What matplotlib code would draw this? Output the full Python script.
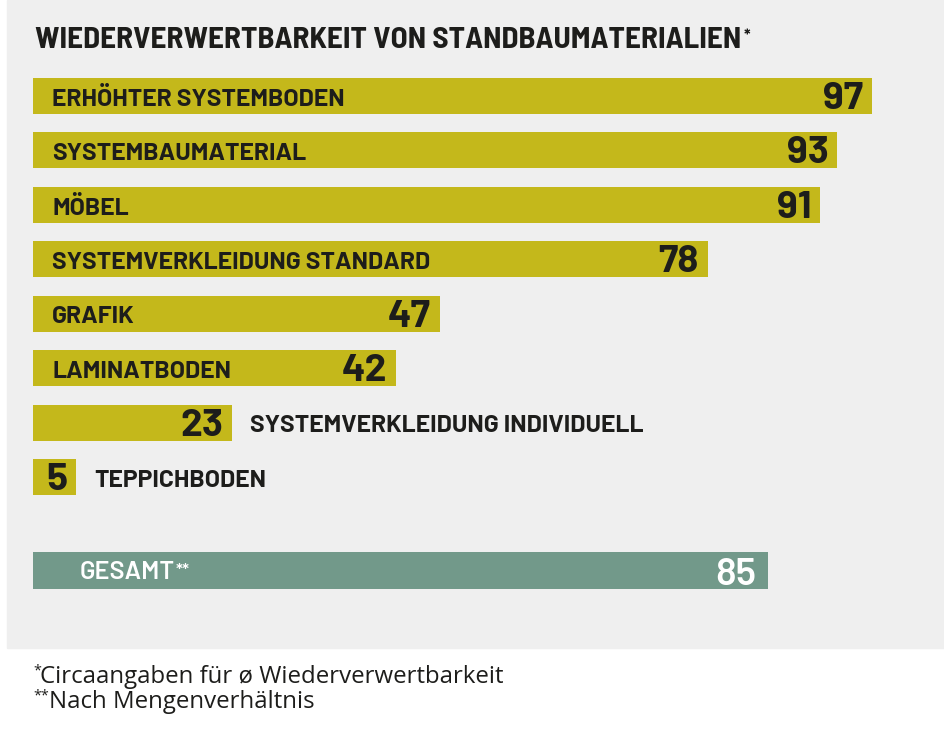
import matplotlib
matplotlib.use('Agg')
import matplotlib.pyplot as plt
from matplotlib.patches import Rectangle

# ── Data ───────────────────────────────────────────────────────────────────────
TITLE = "WIEDERVERWERTBARKEIT VON STANDBAUMATERIALIEN"
materials = ["ERHÖHTER SYSTEMBODEN", "SYSTEMBAUMATERIAL", "MÖBEL",
             "SYSTEMVERKLEIDUNG STANDARD", "GRAFIK", "LAMINATBODEN",
             "SYSTEMVERKLEIDUNG INDIVIDUELL", "TEPPICHBODEN"]
recycling = [97, 93, 91, 78, 47, 42, 23, 5]
total_label = "GESAMT"
total_value = 85
footnotes = ["Circaangaben für ø Wiederverwertbarkeit", "Nach Mengenverhältnis"]

# ── Style ──────────────────────────────────────────────────────────────────────
W, H = 944, 737
YELLOW = '#C4B81B'
GREEN = '#72998A'
PANEL = '#EFEFEF'
INK = '#1D1D1B'
HEAD = ['Barlow Semi Condensed', 'DejaVu Sans']
LAB = ['Barlow', 'DejaVu Sans']
BODY = ['Open Sans', 'DejaVu Sans']

fig = plt.figure(figsize=(W / 100, H / 100), dpi=100, facecolor='white')
renderer = fig.canvas.get_renderer()


def px(x, y):
    """pixel position (from top-left) -> figure fraction"""
    return x / W, 1 - y / H


def fit(s, target, **kw):
    """font size so that string s is `target` px wide"""
    t = fig.text(0, 0, s, fontsize=20, **kw)
    w = t.get_window_extent(renderer).width
    t.remove()
    return 20 * target / w


# grey panel behind the chart
fig.patches.append(Rectangle((7 / W, 1 - 648 / H), 1, 648 / H,
                             transform=fig.transFigure, color=PANEL, zorder=-5))

# axes: x 0..100 -> 33..898 px, y slots of 54.43 px starting at 96 px
SLOT = 54.43
ax = fig.add_axes([33 / W, 0, 865 / W, 1])
ax.set_xlim(0, 100)
ax.set_ylim((H - 96) / SLOT, -96 / SLOT)
ax.axis('off')

pos = list(range(len(materials)))
total_pos = (570.5 - 96) / SLOT
ax.barh(pos, recycling, height=36 / SLOT, color=YELLOW, zorder=2)
ax.barh([total_pos], [total_value], height=37 / SLOT, color=GREEN, zorder=2)

lab_fs = fit(materials[0], 293, family=LAB, weight='bold')
val_fs = fit("97", 40, family=LAB, weight='bold')
for p, name, v in zip(pos, materials, recycling):
    ax.annotate(str(v), xy=(v, p), xytext=(-9, -13), textcoords='offset pixels',
                ha='right', va='baseline', fontsize=val_fs, family=LAB,
                weight='bold', color=INK, zorder=3)
    # short bars: name goes outside, right of the bar
    if v >= 30:
        ax.annotate(name, xy=(0, p), xytext=(19, -9.7), textcoords='offset pixels',
                    ha='left', va='baseline', fontsize=lab_fs, family=LAB,
                    weight='bold', color=INK, zorder=3)
    else:
        ax.annotate(name, xy=(v, p), xytext=(18, -9.7), textcoords='offset pixels',
                    ha='left', va='baseline', fontsize=lab_fs, family=LAB,
                    weight='bold', color=INK, zorder=3)

# total bar
tot_fs = fit(total_label, 95, family=LAB, weight='semibold')
gl = ax.annotate(total_label, xy=(0, total_pos), xytext=(47, -8.5),
                 textcoords='offset pixels', ha='left', va='baseline',
                 fontsize=tot_fs, family=LAB, weight='semibold', color='white', zorder=3)
ax.annotate("**", xy=(1, 0.9), xycoords=gl, xytext=(0.5, 0), textcoords='offset pixels',
            ha='left', va='top', fontsize=tot_fs * 0.7, family=LAB,
            weight='semibold', color='white', zorder=3)
ax.annotate(str(total_value), xy=(total_value, total_pos), xytext=(-12, -14.5),
            textcoords='offset pixels', ha='right', va='baseline',
            fontsize=fit("85", 41, family=LAB, weight='semibold'), family=LAB,
            weight='semibold', color='white', zorder=3)

# title with superscript asterisk
title_fs = fit(TITLE, 707, family=HEAD, weight='bold')
tt = fig.text(*px(35, 48), TITLE, fontsize=title_fs, family=HEAD, weight='bold',
              color=INK, ha='left', va='baseline')
ax.annotate("*", xy=(1, 0.9), xycoords=tt, xytext=(2, 0), textcoords='offset pixels',
            ha='left', va='top', fontsize=title_fs * 0.55, family=HEAD,
            weight='bold', color=INK)

# footnotes
foot_fs = fit(footnotes[0], 462, family=BODY)
for i, (stars, note) in enumerate(zip(["*", "**"], footnotes)):
    base = 683 + i * 25
    fig.text(*px(33, base - 20), stars, fontsize=foot_fs * 0.6, family=BODY,
             color=INK, ha='left', va='top')
    fig.text(*px(40 + 9 * i, base), note, fontsize=foot_fs, family=BODY,
             color=INK, ha='left', va='baseline')

fig.savefig('out.png', dpi=100, facecolor=fig.get_facecolor())
plt.close(fig)
